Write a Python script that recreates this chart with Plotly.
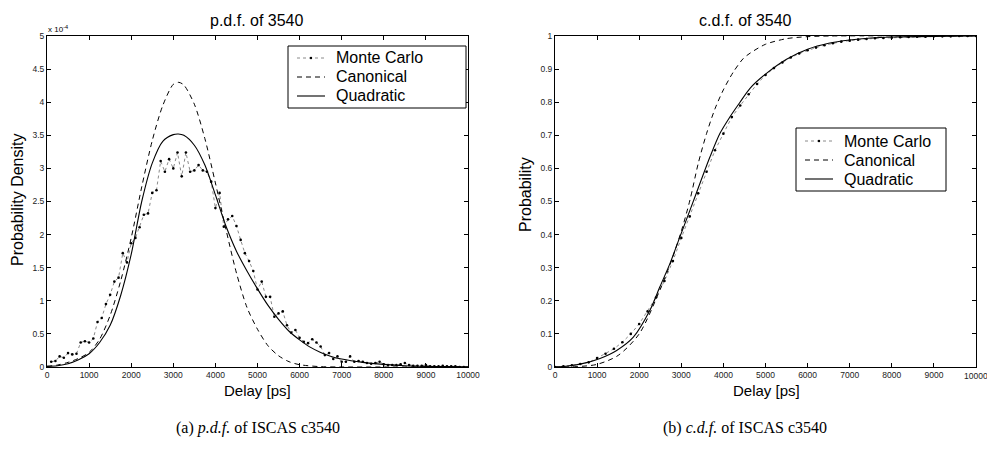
import plotly.graph_objects as go

# ---------------- data (pdf values in units of 1e-4) ----------------
pdf_x_canon = [0, 250, 500, 750, 1000, 1250, 1500, 1750, 2000, 2250, 2500, 2750, 3000, 3130,
               3250, 3500, 3750, 4000, 4250, 4500, 4750, 5000, 5250, 5500, 5750, 6000, 6500,
               7000, 8000, 10000]
pdf_canon = [0.01, 0.03, 0.07, 0.13, 0.22, 0.42, 0.78, 1.3, 1.95, 2.72, 3.42, 3.95, 4.27, 4.3,
             4.26, 3.97, 3.45, 2.78, 2.08, 1.42, 0.9, 0.57, 0.32, 0.17, 0.08, 0.035, 0.005,
             0.0, 0.0, 0.0]

pdf_x_quad = [0, 250, 500, 750, 1000, 1250, 1500, 1750, 2000, 2250, 2500, 2750, 3000, 3120,
              3250, 3500, 3750, 4000, 4250, 4500, 4750, 5000, 5250, 5500, 5750, 6000, 6250,
              6500, 6750, 7000, 7500, 8000, 8500, 9000, 9500, 10000]
pdf_quad = [0.01, 0.02, 0.05, 0.11, 0.2, 0.37, 0.63, 1.08, 1.7, 2.5, 3.08, 3.41, 3.51, 3.52,
            3.5, 3.35, 3.05, 2.6, 2.13, 1.75, 1.45, 1.18, 0.93, 0.72, 0.54, 0.41, 0.3,
            0.22, 0.16, 0.12, 0.07, 0.04, 0.02, 0.01, 0.005, 0.002]

pdf_x_mc = list(range(100, 10000, 100))
pdf_mc = [0.08, 0.09, 0.16, 0.14, 0.21, 0.19, 0.20, 0.37, 0.39, 0.37,
          0.43, 0.68, 0.74, 0.95, 1.09, 1.29, 1.35, 1.72, 1.58, 1.87,
          1.95, 2.11, 2.30, 2.32, 2.63, 2.67, 3.11, 2.95, 3.14, 3.00,
          3.24, 2.88, 3.24, 2.95, 2.97, 3.05, 2.97, 2.95, 2.80, 2.40,
          2.63, 2.12, 2.23, 2.28, 2.13, 1.92, 1.72, 1.60, 1.45, 1.17,
          1.29, 1.06, 1.06, 0.76, 0.81, 0.84, 0.63, 0.52, 0.56, 0.44,
          0.38, 0.36, 0.42, 0.37, 0.31, 0.18, 0.21, 0.12, 0.16, 0.08,
          0.08, 0.16, 0.08, 0.09, 0.08, 0.06, 0.05, 0.06, 0.08, 0.04,
          0.03, 0.03, 0.03, 0.04, 0.06, 0.03, 0.02, 0.02, 0.02, 0.03,
          0.01, 0.01, 0.01, 0.02, 0.01, 0.01, 0.01, 0.00, 0.00]

cdf_x_quad = [0, 300, 673, 1069, 1465, 1861, 2257, 2494, 2732, 2969, 3207, 3444, 3682, 3919,
              4157, 4394, 4632, 5000, 5500, 6000, 6500, 7000, 7500, 8000, 9000, 10000]
cdf_quad = [0.0, 0.003, 0.011, 0.026, 0.05, 0.09, 0.172, 0.243, 0.313, 0.394, 0.474, 0.555,
            0.635, 0.706, 0.756, 0.8, 0.842, 0.885, 0.93, 0.96, 0.978, 0.988, 0.994, 0.997,
            0.999, 1.0]

cdf_x_canon = [0, 500, 1000, 1500, 2000, 2500, 2771, 3009, 3207, 3404, 3602, 3800, 3998, 4235,
               4473, 4632, 5000, 5500, 6000, 6500, 10000]
cdf_canon = [0.0, 0.001, 0.008, 0.035, 0.1, 0.235, 0.323, 0.414, 0.505, 0.616, 0.706, 0.78,
             0.837, 0.891, 0.932, 0.948, 0.975, 0.992, 0.998, 1.0, 1.0]

cdf_x_mc = list(range(0, 10001, 200))
cdf_mc = [0.0, 0.002, 0.005, 0.009, 0.014, 0.027, 0.04, 0.055, 0.075, 0.1,
          0.13, 0.168, 0.21, 0.26, 0.32, 0.39, 0.455, 0.525, 0.59, 0.655,
          0.705, 0.755, 0.79, 0.824, 0.855, 0.882, 0.903, 0.92, 0.935, 0.947,
          0.957, 0.965, 0.972, 0.978, 0.983, 0.986, 0.989, 0.991, 0.993, 0.994,
          0.995, 0.996, 0.997, 0.998, 0.998, 0.999, 0.999, 0.999, 1.0, 1.0, 1.0]

series_names = ["Monte Carlo", "Canonical", "Quadratic"]
x_ticks = [0, 1000, 2000, 3000, 4000, 5000, 6000, 7000, 8000, 9000, 10000]
x_tick_text = [str(v) for v in x_ticks]

# ---------------- figure ----------------
W, H = 987, 453
FONT = "Liberation Sans, Arial, sans-serif"
SERIF = "Liberation Serif, Times New Roman, serif"
MC_LINE = dict(color="#8a8a8a", width=1, dash="dot")
CAN_LINE = dict(color="black", width=1, dash="5px,4px")
QUAD_LINE = dict(color="black", width=1.1)
TICK_SIZE = 8.5

fig = go.Figure()

def add_set(xa, ya, xs_mc, ys_mc, xs_c, ys_c, xs_q, ys_q):
    fig.add_trace(go.Scatter(x=xs_mc, y=ys_mc, name=series_names[0], mode="lines+markers",
                             line=MC_LINE, marker=dict(color="black", size=2.6),
                             xaxis=xa, yaxis=ya, showlegend=False))
    fig.add_trace(go.Scatter(x=xs_c, y=ys_c, name=series_names[1], mode="lines",
                             line=dict(CAN_LINE, shape="spline", smoothing=0.8),
                             xaxis=xa, yaxis=ya, showlegend=False))
    fig.add_trace(go.Scatter(x=xs_q, y=ys_q, name=series_names[2], mode="lines",
                             line=dict(QUAD_LINE, shape="spline", smoothing=0.8),
                             xaxis=xa, yaxis=ya, showlegend=False))

add_set("x", "y", pdf_x_mc, pdf_mc, pdf_x_canon, pdf_canon, pdf_x_quad, pdf_quad)
add_set("x2", "y2", cdf_x_mc, cdf_mc, cdf_x_canon, cdf_canon, cdf_x_quad, cdf_quad)

def px(v):
    return v / W

def py(v):
    return 1 - v / H

ax_common = dict(showline=True, linecolor="black", linewidth=1, mirror="allticks",
                 ticks="inside", ticklen=4, tickcolor="black", showgrid=False, zeroline=False,
                 automargin=False,
                 tickfont=dict(family=FONT, size=TICK_SIZE, color="#222"))

ydom = [py(367), py(36)]
fig.update_layout(
    width=W, height=H, margin=dict(l=0, r=0, t=0, b=0, pad=0, autoexpand=False),
    paper_bgcolor="white", plot_bgcolor="white", showlegend=False,
    font=dict(family=FONT, color="black"),
    xaxis=dict(domain=[px(47), px(468)], range=[0, 10000], tickvals=x_ticks,
               ticktext=x_tick_text, anchor="y", **ax_common),
    yaxis=dict(domain=ydom, range=[0, 5], dtick=0.5, anchor="x", **ax_common),
    xaxis2=dict(domain=[px(555), px(976)], range=[0, 10000], tickvals=x_ticks,
                ticktext=x_tick_text, anchor="y2", **ax_common),
    yaxis2=dict(domain=ydom, range=[0, 1], dtick=0.1, anchor="x2", **ax_common),
)

ann = []
shapes = []

def text(x, y, s, size, family=FONT, xanchor="center", color="black", **kw):
    a = dict(x=px(x), y=py(y), xref="paper", yref="paper", text=s, showarrow=False,
             xanchor=xanchor, yanchor="middle",
             font=dict(family=family, size=size, color=color))
    a.update(kw)
    ann.append(a)

def legend_box(x0, y0, x1, y1, sx0, sx1, tx, rows):
    shapes.append(dict(type="rect", xref="paper", yref="paper", x0=px(x0), x1=px(x1),
                       y0=py(y1), y1=py(y0), line=dict(color="black", width=1),
                       fillcolor="white", layer="above"))
    styles = [MC_LINE, CAN_LINE, QUAD_LINE]
    for name, style, ry in zip(series_names, styles, rows):
        shapes.append(dict(type="line", xref="paper", yref="paper", x0=px(sx0), x1=px(sx1),
                           y0=py(ry), y1=py(ry), line=style, layer="above"))
        text(tx, ry, name, 16, xanchor="left")
    cx = (sx0 + sx1) / 2
    shapes.append(dict(type="circle", xref="paper", yref="paper", x0=px(cx - 1.2), x1=px(cx + 1.2),
                       y0=py(rows[0] + 1.2), y1=py(rows[0] - 1.2),
                       fillcolor="black", line=dict(width=0), layer="above"))

legend_box(288, 46, 466, 108, 297, 325, 334, [58, 77, 96])
legend_box(796, 128, 946, 191, 805, 833, 842, [141, 160, 179])

text(257, 20, "p.d.f. of 3540", 16)
text(745, 20, "c.d.f. of 3540", 16)
text(257, 390, "Delay [ps]", 15)
text(766, 390, "Delay [ps]", 15)
text(17, 200, "Probability Density", 16, textangle=-90)
text(525, 195, "Probability", 16, textangle=-90)
text(46, 29, "x 10<sup>-4</sup>", 8, xanchor="left")
# last tick label of the right panel runs past the page edge (clipped, as in the reference)
text(976, 376, x_tick_text[-1], TICK_SIZE, color="#222")
text(258, 428, "(a) <i>p.d.f.</i> of ISCAS c3540", 16, family=SERIF)
text(745, 428, "(b) <i>c.d.f.</i> of ISCAS c3540", 16, family=SERIF)
fig.update_layout(annotations=ann, shapes=shapes)

fig.write_html("out.html")
